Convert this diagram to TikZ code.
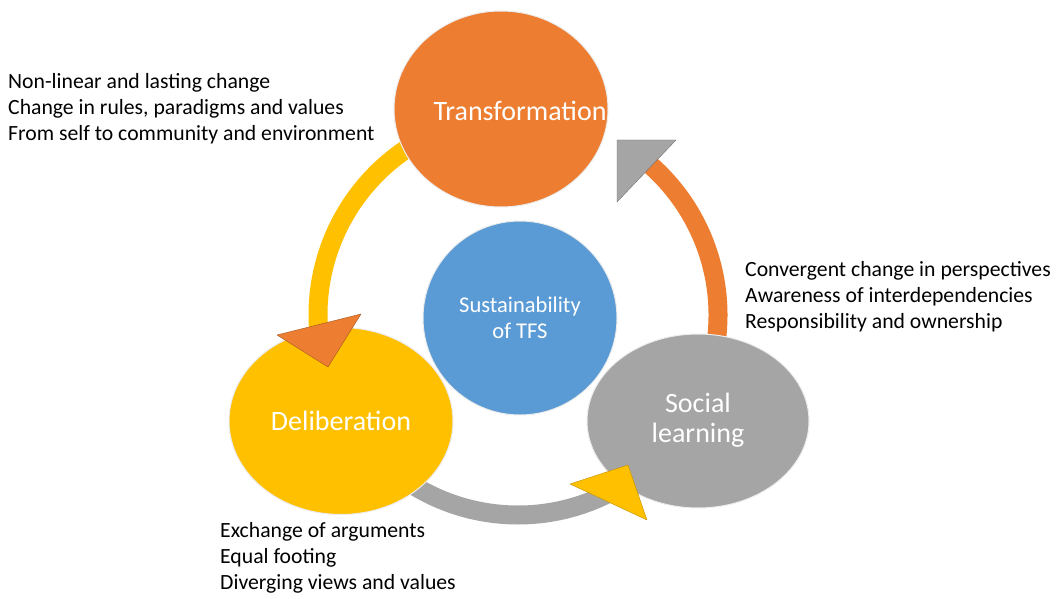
\documentclass[tikz,border=0pt]{standalone}
\usepackage{fontspec}
\setmainfont{Carlito}
\usetikzlibrary{shapes.geometric}
\definecolor{tfsorange}{HTML}{ED7D31}
\definecolor{tfsgray}{HTML}{A5A5A5}
\definecolor{tfsyellow}{HTML}{FFC000}
\definecolor{tfsblue}{HTML}{5B9BD5}
\begin{document}
\begin{tikzpicture}[x=1pt,y=-1pt, line join=round,
	phase/.style={ellipse, draw=white!85!gray, line width=1pt, inner sep=0pt},
	phasetext/.style={text=white, align=center, inner sep=0pt, font=\fontsize{28}{29.5}\selectfont},
	ringarc/.style={line width=19pt},
	notes/.style={align=left, anchor=north west, inner sep=0pt, font=\fontsize{21.7}{26.3}\selectfont}]
	\def\R{200pt} % ring radius
	\useasboundingbox (0,0) rectangle (1057,599);
	\coordinate (ring) at (518,315);
	% arcs of the cycle
	\draw[ringarc, tfsorange] ([shift={(-10:\R)}]ring) arc[start angle=-10, end angle=52, radius=\R];
	\draw[ringarc, tfsyellow] ([shift={(118:\R)}]ring) arc[start angle=118, end angle=186, radius=\R];
	\draw[ringarc, tfsgray] ([shift={(236:\R)}]ring) arc[start angle=236, end angle=302, radius=\R];
	% phases
	\node[phase, fill=tfsorange, minimum width=214pt, minimum height=196pt] (trans) at (501,109) {};
	\node[phase, fill=tfsyellow, minimum width=224pt, minimum height=187pt] (delib) at (341,421) {};
	\node[phase, fill=tfsgray, minimum width=222pt, minimum height=174pt] (social) at (698,421) {};
	\node[phase, fill=tfsblue, minimum width=194pt, minimum height=194pt] (tfs) at (520,318) {};
	\node[phasetext] (trans-t) at (520,111) {Transformation};
	\node[phasetext] (delib-t) at (341,421) {Deliberation};
	\node[phasetext] (social-t) at (698,420) {Social\\learning};
	\node[phasetext, font=\fontsize{22.5}{25.5}\selectfont] (tfs-t) at (520,318) {Sustainability\\of TFS};
	% arrow heads
	\filldraw[fill=tfsgray, draw=tfsgray!70!black] (617,140) -- (676,140) -- (617,202) -- cycle;
	\filldraw[fill=tfsorange, draw=tfsorange!70!black] (277,335) -- (361,314) -- (328,367) -- cycle;
	\filldraw[fill=tfsyellow, draw=tfsyellow!75!black] (570,484) -- (628,465) -- (647,520) -- cycle;
	% notes
	\node[notes] (transnotes) at (8,73) {Non-linear and lasting change\\Change in rules, paradigms and values\\From self to community and environment};
	\node[notes] (socialnotes) at (745,261) {Convergent change in perspectives\\Awareness of interdependencies\\Responsibility and ownership};
	\node[notes] (delibnotes) at (220,522) {Exchange of arguments\\Equal footing\\Diverging views and values};
\end{tikzpicture}
\end{document}
